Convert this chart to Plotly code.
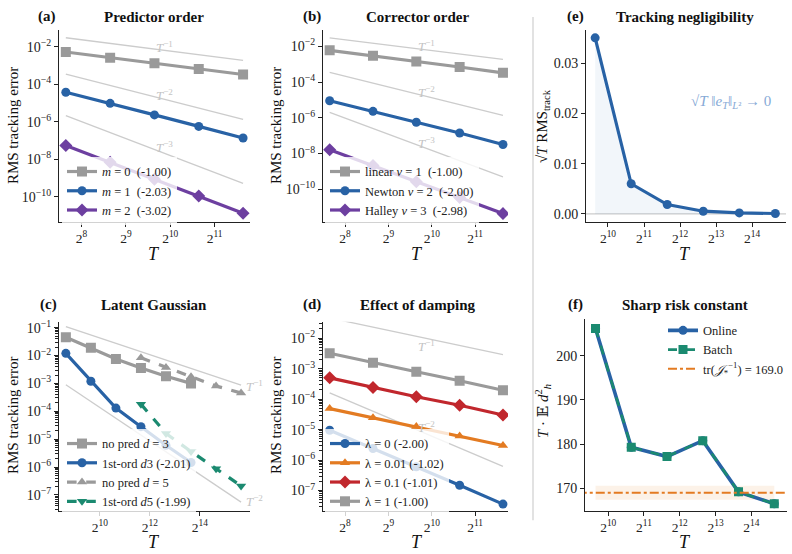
import math
import plotly.graph_objects as go

# ---------------- data ----------------
T_ab = [200, 400, 800, 1600, 3200]
T_c3 = [400, 800, 1600, 3200, 6400, 12800]
T_c5 = [3200, 6400, 12800, 25600, 51200]
T_ef = [800, 1600, 3200, 6400, 12800, 25600]

# (a) predictor order
a_m0 = [5.2e-3, 2.6e-3, 1.3e-3, 6.5e-4, 3.3e-4]
a_m1 = [3.7e-5, 9.5e-6, 2.3e-6, 5.6e-7, 1.35e-7]
a_m2 = [5.4e-8, 6.8e-9, 8.6e-10, 1.08e-10, 1.3e-11]
a_labels = ["<i>m</i> = 0  (-1.00)", "<i>m</i> = 1  (-2.03)", "<i>m</i> = 2  (-3.02)"]

# (b) corrector order
b_lin = [6.0e-3, 3.0e-3, 1.45e-3, 7.0e-4, 3.3e-4]
b_newton = [9.0e-6, 2.3e-6, 5.6e-7, 1.4e-7, 3.2e-8]
b_halley = [1.65e-8, 2.1e-9, 2.6e-10, 3.4e-11, 4.3e-12]
b_labels = ["linear <i>ν</i> = 1  (-1.00)", "Newton <i>ν</i> = 2  (-2.00)", "Halley <i>ν</i> = 3  (-2.98)"]

# (c) latent Gaussian
c_nopred3 = [4.5e-2, 1.9e-2, 7.5e-3, 3.6e-3, 1.8e-3, 1.0e-3]
c_first3 = [1.2e-2, 1.2e-3, 1.3e-4, 2.8e-5, 6.0e-6, 1.45e-6]
c_nopred5 = [8.3e-3, 3.7e-3, 1.75e-3, 8.1e-4, 4.5e-4]
c_first5 = [1.8e-4, 1.6e-5, 3.6e-6, 8.7e-7, 2.1e-7]
c_labels = ["no pred <i>d</i> = 3", "1st-ord <i>d</i>3 (-2.01)", "no pred <i>d</i> = 5", "1st-ord <i>d</i>5 (-1.99)"]

# (d) damping
d_l0 = [9.5e-6, 2.4e-6, 6.0e-7, 1.5e-7, 3.6e-8]
d_l001 = [4.9e-5, 2.45e-5, 1.26e-5, 6.2e-6, 3.0e-6]
d_l01 = [5.0e-4, 2.4e-4, 1.2e-4, 6.3e-5, 3.0e-5]
d_l1 = [3.2e-3, 1.55e-3, 7.9e-4, 4.0e-4, 1.95e-4]
d_labels = ["λ = 0 (-2.00)", "λ = 0.01 (-1.02)", "λ = 0.1 (-1.01)", "λ = 1 (-1.00)"]

# (e) tracking negligibility
e_vals = [0.0351, 0.0060, 0.00186, 0.00053, 0.00020, 0.00008]

# (f) sharp risk constant
f_online = [206.2, 179.3, 177.2, 180.8, 169.2, 166.5]
f_batch = [206.2, 179.3, 177.2, 180.8, 169.2, 166.5]
f_trace = 169.0
f_band = 1.6

# reference power laws: (anchor T, value at anchor, exponent)
ref_a = [(200, 0.03, 1), (200, 3.4e-4, 2), (200, 2.1e-6, 3)]
ref_b = [(200, 0.03, 1), (200, 3.5e-4, 2), (200, 2.0e-6, 3)]
ref_c = [(400, 0.11, 1), (400, 9.0e-4, 2)]
ref_d = [(200, 0.046, 1), (200, 1.6e-4, 2)]

# ---------------- style ----------------
W, H = 792, 554
FONT = "Liberation Serif, DejaVu Serif, serif"
GRAY = "#9a9a9a"
BLUE = "#2862a5"
PURPLE = "#6d3fa0"
RED = "#c1272d"
ORANGE = "#e37b22"
TEAL = "#1b8a70"
REFC = "#cccccc"
L2 = math.log10(2)


def dx(p0, p1):
    return [p0 / W, p1 / W]


def dy(top, bottom):
    return [1 - bottom / H, 1 - top / H]


def pow2_ticks(exps):
    return [2 ** e for e in exps], ["2<sup>%d</sup>" % e for e in exps]


def pow10_ticks(exps):
    return [10.0 ** e for e in exps], ["10<sup>−%d</sup>" % (-e) for e in exps]


def minor_vals(lo, hi):
    return [k * 10.0 ** e for e in range(lo, hi) for k in range(2, 10)]


fig = go.Figure()


def add_line(x, y, ax, name, color, symbol, legend, dash="solid", size=9, width=3.2, show=True):
    fig.add_trace(go.Scatter(
        x=x, y=y, mode="lines+markers", name=name,
        line=dict(color=color, width=width, dash=dash),
        marker=dict(symbol=symbol, size=size, color=color),
        xaxis="x" + ax, yaxis="y" + ax, legend=legend, showlegend=show))


def add_refs(refs, ax, Tlist):
    for T0, c, k in refs:
        xs = [Tlist[0], Tlist[-1]]
        ys = [c * (t / T0) ** (-k) for t in xs]
        fig.add_trace(go.Scatter(x=xs, y=ys, mode="lines", line=dict(color=REFC, width=1.3),
                                 xaxis="x" + ax, yaxis="y" + ax, showlegend=False, hoverinfo="skip"))


# (a)
add_refs(ref_a, "1", T_ab)
add_line(T_ab, a_m0, "1", a_labels[0], GRAY, "square", "legend", size=10)
add_line(T_ab, a_m1, "1", a_labels[1], BLUE, "circle", "legend")
add_line(T_ab, a_m2, "1", a_labels[2], PURPLE, "diamond", "legend", size=10)
# (b)
add_refs(ref_b, "2", T_ab)
add_line(T_ab, b_lin, "2", b_labels[0], GRAY, "square", "legend2", size=10)
add_line(T_ab, b_newton, "2", b_labels[1], BLUE, "circle", "legend2")
add_line(T_ab, b_halley, "2", b_labels[2], PURPLE, "diamond", "legend2", size=10)
# (e)
fig.add_trace(go.Scatter(x=T_ef, y=e_vals, mode="lines+markers", fill="tozeroy",
                         fillcolor="rgba(40,98,165,0.06)", line=dict(color=BLUE, width=3.2),
                         marker=dict(size=9, color=BLUE), xaxis="x3", yaxis="y3", showlegend=False))
# (c)
add_refs(ref_c, "4", [T_c3[0], T_c5[-1]])
add_line(T_c3, c_nopred3, "4", c_labels[0], GRAY, "square", "legend4", size=10)
add_line(T_c3, c_first3, "4", c_labels[1], BLUE, "circle", "legend4")
add_line(T_c5, c_nopred5, "4", c_labels[2], GRAY, "triangle-up", "legend4", dash="dash")
add_line(T_c5, c_first5, "4", c_labels[3], TEAL, "triangle-down", "legend4", dash="dash")
# (d)
add_refs(ref_d, "5", T_ab)
add_line(T_ab, d_l0, "5", d_labels[0], BLUE, "circle", "legend5")
add_line(T_ab, d_l001, "5", d_labels[1], ORANGE, "triangle-up", "legend5")
add_line(T_ab, d_l01, "5", d_labels[2], RED, "diamond", "legend5", size=10)
add_line(T_ab, d_l1, "5", d_labels[3], GRAY, "square", "legend5", size=10)
# (f)
fig.add_trace(go.Scatter(x=[T_ef[0], T_ef[-1], T_ef[-1], T_ef[0]],
                         y=[f_trace - f_band, f_trace - f_band, f_trace + f_band, f_trace + f_band],
                         mode="lines", fill="toself", fillcolor="rgba(227,123,34,0.10)",
                         line=dict(width=0), xaxis="x6", yaxis="y6", showlegend=False, hoverinfo="skip"))
add_line(T_ef, f_online, "6", "Online", BLUE, "circle", "legend6", size=9, width=3.6)
add_line(T_ef, f_batch, "6", "Batch", TEAL, "square", "legend6", dash="dash", size=9, width=2.6)
fig.add_trace(go.Scatter(x=[T_ef[0] / 2, T_ef[-1] * 2], y=[f_trace, f_trace], mode="lines",
                         name="tr(<i>𝒥</i><sub>*</sub><sup>−1</sup>) = %.1f" % f_trace,
                         line=dict(color=ORANGE, width=2, dash="dashdot"),
                         xaxis="x6", yaxis="y6", legend="legend6"))

# ---------------- axes ----------------
tick_font = dict(family=FONT, size=14, color="#222")
xtick_font = dict(family=FONT, size=13.5, color="#222")
base_axis = dict(showgrid=False, zeroline=False, showline=True, linecolor="#222", linewidth=1.1,
                 ticks="outside", ticklen=4, tickcolor="#222", tickfont=tick_font)
base_x = dict(base_axis, tickfont=xtick_font, ticklen=3.5)

x_ab_vals, x_ab_text = pow2_ticks([8, 9, 10, 11])
x_c_vals, x_c_text = pow2_ticks([10, 12, 14])
x_ef_vals, x_ef_text = pow2_ticks([10, 11, 12, 13, 14])


def minor(lo, hi):
    return dict(ticks="outside", ticklen=2.5, tickcolor="#222", tickmode="array",
                tickvals=minor_vals(lo, hi), showgrid=False)


top = (26, 220)
bot = (320, 511)
layout_axes = {
    "xaxis": dict(base_x, type="log", domain=dx(59, 250), range=[7.49 * L2, 11.8 * L2],
                  tickvals=x_ab_vals, ticktext=x_ab_text, anchor="y"),
    "yaxis": dict(base_axis, type="log", domain=dy(*top), range=[-11.37, -1.1],
                  tickvals=pow10_ticks([-2, -4, -6, -8, -10])[0],
                  ticktext=pow10_ticks([-2, -4, -6, -8, -10])[1], anchor="x"),
    "xaxis2": dict(base_x, type="log", domain=dx(323, 508), range=[7.49 * L2, 11.76 * L2],
                   tickvals=x_ab_vals, ticktext=x_ab_text, anchor="y2"),
    "yaxis2": dict(base_axis, type="log", domain=dy(*top), range=[-11.86, -1.07],
                   tickvals=pow10_ticks([-2, -4, -6, -8, -10])[0],
                   ticktext=pow10_ticks([-2, -4, -6, -8, -10])[1], anchor="x2"),
    "xaxis3": dict(base_x, type="log", domain=dx(586, 786), range=[9.39 * L2, 14.94 * L2],
                   tickvals=x_ef_vals, ticktext=x_ef_text, anchor="y3"),
    "yaxis3": dict(base_axis, domain=dy(*top), range=[-0.0017, 0.0367],
                   tickvals=[0, 0.01, 0.02, 0.03], tickformat=".2f", anchor="x3"),
    "xaxis4": dict(base_x, type="log", domain=dx(59, 250), range=[8.37 * L2, 16.0 * L2],
                   tickvals=x_c_vals, ticktext=x_c_text, anchor="y4"),
    "yaxis4": dict(base_axis, type="log", domain=dy(*bot), range=[-7.59, -0.785],
                   tickvals=pow10_ticks(list(range(-1, -8, -1)))[0],
                   ticktext=pow10_ticks(list(range(-1, -8, -1)))[1], minor=minor(-8, 0), anchor="x4"),
    "xaxis5": dict(base_x, type="log", domain=dx(323, 508), range=[7.49 * L2, 11.76 * L2],
                   tickvals=x_ab_vals, ticktext=x_ab_text, anchor="y5"),
    "yaxis5": dict(base_axis, type="log", domain=dy(*bot), range=[-7.68, -1.46],
                   tickvals=pow10_ticks(list(range(-2, -8, -1)))[0],
                   ticktext=pow10_ticks(list(range(-2, -8, -1)))[1], minor=minor(-8, -1), anchor="x5"),
    "xaxis6": dict(base_x, type="log", domain=dx(585, 787), range=[9.35 * L2, 15.0 * L2],
                   tickvals=x_ef_vals, ticktext=x_ef_text, anchor="y6"),
    "yaxis6": dict(base_axis, domain=dy(317, 511), range=[164.8, 208.4],
                   tickvals=[170, 180, 190, 200], anchor="x6"),
}

leg_font = dict(family=FONT, size=12.5, color="#222")


def legend_at(px, py, anchor="left"):
    return dict(x=px / W, y=1 - py / H, xanchor=anchor, yanchor="top", bgcolor="rgba(255,255,255,0.8)",
                borderwidth=0, font=leg_font, itemwidth=30, tracegroupgap=0)


layout_legends = {
    "legend": legend_at(62, 154),
    "legend2": legend_at(325, 154),
    "legend4": legend_at(62, 428),
    "legend5": legend_at(325, 428),
    "legend6": legend_at(663, 314),
}

# ---------------- annotations ----------------
ann = []


def paper_text(px, py, text, size=13, bold=False, color="#111", angle=0, xanchor="center"):
    t = "<b>%s</b>" % text if bold else text
    ann.append(dict(x=px / W, y=1 - py / H, xref="paper", yref="paper", text=t, showarrow=False,
                    textangle=angle, xanchor=xanchor, yanchor="middle",
                    font=dict(family=FONT, size=size, color=color)))


titles = [(47, 154, 13, "(a)", "Predictor order"), (312, 417, 13, "(b)", "Corrector order"),
          (575, 685, 13, "(e)", "Tracking negligibility"), (48, 154, 303, "(c)", "Latent Gaussian"),
          (312, 417, 303, "(d)", "Effect of damping"), (575, 685, 303, "(f)", "Sharp risk constant")]
for lx, tx, ty, lab, title in titles:
    paper_text(lx, ty, lab, size=15, bold=True)
    paper_text(tx, ty, title, size=15, bold=True)

for cx, cy in [(154, 252), (417, 252), (685, 252), (154, 542), (417, 542), (685, 542)]:
    paper_text(cx, cy, "<i>T</i>", size=18)

for cx, cy in [(13, 123), (276, 123), (13, 415), (276, 415)]:
    paper_text(cx, cy, "RMS tracking error", size=15, angle=-90)
paper_text(543, 123, "√<i>T</i> RMS<sub>track</sub>", size=15, angle=-90)
paper_text(543, 410, "<i>T</i> · 𝔼 <i>d</i><sup>2</sup><sub><i>h</i></sub>", size=15, angle=-90)


def data_text(ax, x, y, text, size=13, color="#c4c4c4", xanchor="center"):
    ann.append(dict(x=math.log10(x), y=math.log10(y), xref="x" + ax, yref="y" + ax, text=text,
                    showarrow=False, xanchor=xanchor, yanchor="middle",
                    font=dict(family=FONT, size=size, color=color)))


T_lab = 2 ** 9.87
data_text("", T_lab, 1.0e-2, "<i>T</i><sup>−1</sup>")
data_text("", T_lab, 2.6e-5, "<i>T</i><sup>−2</sup>")
data_text("", T_lab, 4.6e-8, "<i>T</i><sup>−3</sup>")
data_text("2", T_lab, 1.0e-2, "<i>T</i><sup>−1</sup>")
data_text("2", T_lab, 2.9e-5, "<i>T</i><sup>−2</sup>")
data_text("2", T_lab, 3.9e-8, "<i>T</i><sup>−3</sup>")
data_text("4", T_c5[-1] * 1.07, 7.8e-4, "<i>T</i><sup>−1</sup>", xanchor="left")
data_text("4", T_c5[-1] * 1.07, 5.8e-8, "<i>T</i><sup>−2</sup>", xanchor="left")
data_text("5", T_lab, 5.7e-3, "<i>T</i><sup>−1</sup>")
data_text("5", T_lab, 1.2e-5, "<i>T</i><sup>−2</sup>")

ann.append(dict(x=math.log10(2 ** 13.4), y=0.0224, xref="x3", yref="y3",
                text="√<i>T</i> ‖<i>e</i><sub><i>T</i></sub>‖<sub><i>L</i>²</sub> → 0", showarrow=False,
                font=dict(family=FONT, size=15, color="#86a9d6")))

# ---------------- shapes ----------------
shapes = [
    dict(type="line", xref="paper", yref="paper", x0=533 / W, x1=533 / W, y0=1 - 520 / H, y1=1 - 13 / H,
         line=dict(color="#cfcfcf", width=1.2)),
    dict(type="line", xref="x3 domain", yref="y3", x0=0, x1=1, y0=0, y1=0,
         line=dict(color="#cccccc", width=1.2), layer="below"),
]

fig.update_layout(width=W, height=H, margin=dict(l=0, r=0, t=0, b=0), paper_bgcolor="white",
                  plot_bgcolor="white", font=dict(family=FONT, size=12, color="#222"),
                  annotations=ann, shapes=shapes, **layout_axes, **layout_legends)

fig.write_html("out.html")
